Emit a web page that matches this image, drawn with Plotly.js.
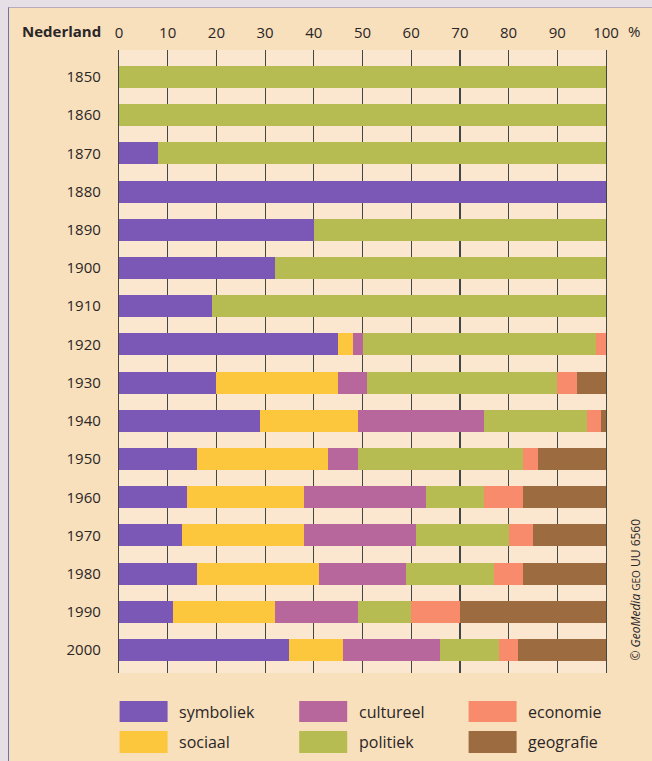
<!DOCTYPE html>
<html>
<head>
<meta charset="utf-8">
<script src="https://cdn.plot.ly/plotly-3.0.1.min.js"></script>
<style>
  html, body { margin:0; padding:0; background:#e6dfe6; width:652px; height:761px; overflow:hidden; }
  #chart { position:absolute; left:8px; top:7px; width:643px; height:753px;
           border-left:1px solid #6f72b0; border-top:1px solid #b9aabb; }
</style>
</head>
<body>
<div id="chart"></div>
<script>
// ---- data ----
const years = ["1850","1860","1870","1880","1890","1900","1910","1920","1930","1940","1950","1960","1970","1980","1990","2000"];
const symboliek = [0, 0, 8, 100, 40, 32, 19, 45, 20, 29, 16, 14, 13, 16, 11, 35];
const sociaal   = [0, 0, 0, 0, 0, 0, 0, 3, 25, 20, 27, 24, 25, 25, 21, 11];
const cultureel = [0, 0, 0, 0, 0, 0, 0, 2, 6, 26, 6, 25, 23, 18, 17, 20];
const politiek  = [100, 100, 92, 0, 60, 68, 81, 48, 39, 21, 34, 12, 19, 18, 11, 12];
const economie  = [0, 0, 0, 0, 0, 0, 0, 2, 4, 3, 3, 8, 5, 6, 10, 4];
const geografie = [0, 0, 0, 0, 0, 0, 0, 0, 6, 1, 14, 17, 15, 17, 30, 18];
const tickVals  = [0, 10, 20, 30, 40, 50, 60, 70, 80, 90, 100];
const tickText  = ["0", "10", "20", "30", "40", "50", "60", "70", "80", "90", "100"];

const seriesNames  = ["symboliek", "sociaal", "cultureel", "politiek", "economie", "geografie"];
const seriesValues = [symboliek, sociaal, cultureel, politiek, economie, geografie];
const seriesColors = ["#7c58b6", "#fcc73c", "#b8679c", "#b6bb52", "#f78b6c", "#9c6b40"];

const FONT = "Open Sans, Lato, sans-serif";
const TXT = "#2a2626";
const GRID = "#3f4845";

const traces = seriesNames.map((n, i) => ({
  type: "bar", orientation: "h", name: n,
  y: years, x: seriesValues[i],
  marker: { color: seriesColors[i], line: { width: 0 } },
  hoverinfo: "name+x", showlegend: false
}));

// plot area geometry (page pixels) for placing legend etc.
const PL = 119.4, PW = 487, PT = 50, PH = 623;
const px = x => (x - PL) / PW;
const py = y => (PT + PH - y) / PH;

// legend layout: 3 columns x 2 rows
const legendOrder = ["symboliek", "cultureel", "economie", "sociaal", "politiek", "geografie"];
const colSwatchX = [120, 299.6, 469];
const colTextX = [177, 357, 526];
const rowY = [[701, 722], [731, 753]];
const shapes = [];
const annotations = [];
legendOrder.forEach((n, k) => {
  const c = k % 3, r = Math.floor(k / 3);
  const idx = seriesNames.indexOf(n);
  shapes.push({ type: "rect", xref: "paper", yref: "paper",
    x0: px(colSwatchX[c]), x1: px(colSwatchX[c] + 48),
    y0: py(rowY[r][1]), y1: py(rowY[r][0]),
    fillcolor: seriesColors[idx], line: { width: 0 } });
  annotations.push({ xref: "paper", yref: "paper", x: px(colTextX[c]), y: py((rowY[r][0] + rowY[r][1]) / 2),
    xanchor: "left", yanchor: "middle", showarrow: false, text: n,
    font: { family: FONT, size: 16, color: TXT } });
});

annotations.push({ xref: "paper", yref: "paper", x: px(103), y: py(31), xanchor: "right", yanchor: "middle",
  showarrow: false, text: "<b>Nederland</b>", font: { family: FONT, size: 15, color: TXT } });
annotations.push({ xref: "paper", yref: "paper", x: px(626), y: py(31), xanchor: "left", yanchor: "middle",
  showarrow: false, text: "%", font: { family: FONT, size: 15, color: TXT } });
annotations.push({ xref: "paper", yref: "paper", x: px(635), y: py(590), xanchor: "center", yanchor: "middle",
  showarrow: false, textangle: -90,
  text: "© <i>GeoMedia</i> <span style='font-size:10px'>GEO</span> UU 6560",
  font: { family: FONT, size: 12, color: TXT } });

const layout = {
  width: 643, height: 753,
  margin: { l: 110, r: 46, t: 42, b: 88, pad: 0 },
  paper_bgcolor: "#f8e0bd",
  plot_bgcolor: "#fbe6cf",
  barmode: "stack",
  bargap: 0.425,
  font: { family: FONT, color: TXT },
  xaxis: {
    side: "top", range: [0, 100], tickvals: tickVals, ticktext: tickText,
    showgrid: true, gridcolor: GRID, gridwidth: 1.2,
    zeroline: false, showline: false, ticks: "",
    ticklabelstandoff: 8, layer: "below traces",
    tickfont: { family: FONT, size: 15, color: TXT }, fixedrange: true
  },
  yaxis: {
    type: "category", categoryorder: "array", categoryarray: years,
    range: [15.6, -0.707],
    showgrid: false, zeroline: false,
    showline: true, mirror: true, linecolor: GRID, linewidth: 1.2,
    ticks: "", ticklabelstandoff: 14,
    tickfont: { family: FONT, size: 15, color: TXT }, fixedrange: true
  },
  shapes: shapes,
  annotations: annotations
};

Plotly.newPlot("chart", traces, layout, { displayModeBar: false, staticPlot: true });
</script>
</body>
</html>
